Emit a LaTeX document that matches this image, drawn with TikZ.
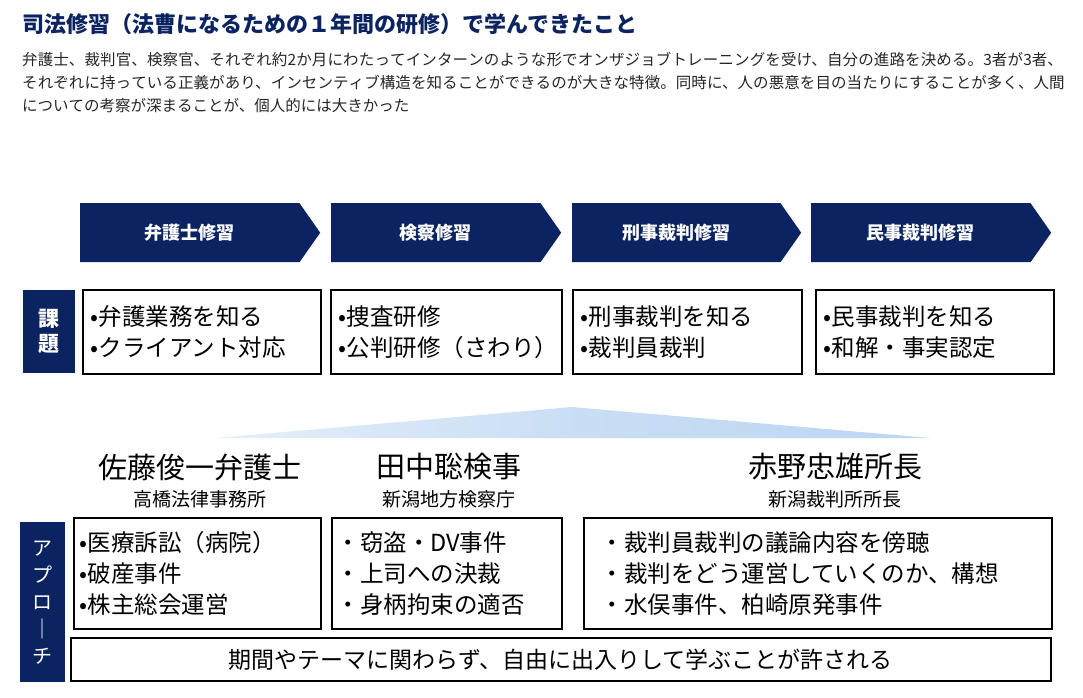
\documentclass[tikz,border=0pt]{standalone}
\usepackage{fontspec}
\setmainfont{Noto Sans CJK JP}
\XeTeXlinebreaklocale "ja"
\XeTeXlinebreakskip=0pt plus 1pt
\usetikzlibrary{shapes.symbols}
\definecolor{navy}{HTML}{0B2461}
\definecolor{skyblue}{HTML}{BCD6F2}
\tikzset{
  phase/.style={signal, signal to=east, signal pointer angle=110, fill=navy, text=white,
    minimum height=59pt, anchor=north west, font=\fontsize{18}{20}\selectfont\bfseries},
  tag/.style={fill=navy, text=white, anchor=north west, inner sep=0pt, align=center},
  task/.style={draw=black, line width=1.6pt, anchor=north west, inner sep=0pt},
  item/.style={anchor=west, align=left, font=\fontsize{23.5}{31}\selectfont},
  mentor/.style={font=\fontsize{29}{30}\selectfont},
  org/.style={font=\fontsize{19}{21}\selectfont}
}
\begin{document}
\begin{tikzpicture}[x=1pt,y=-1pt]
\useasboundingbox (0,0) rectangle (1083,697);

% title and lead
\node (title) [anchor=west, text=navy, font=\fontsize{22}{24}\selectfont\bfseries, inner sep=0pt]
  at (22,24) {司法修習（法曹になるための１年間の研修）で学んできたこと};
\node (lead) [anchor=north west, inner sep=0pt, text width=1045pt, align=left,
  font=\fontsize{15.5}{23}\selectfont, text=black!85] at (22,52)
  {弁護士、裁判官、検察官、それぞれ約2か月にわたってインターンのような形でオンザジョブトレーニングを受け、自分の進路を決める。3者が3者、それぞれに持っている正義があり、インセンティブ構造を知ることができるのが大きな特徴。同時に、人の悪意を目の当たりにすることが多く、人間についての考察が深まることが、個人的には大きかった};

% phases
\node (ph1) [phase, minimum width=240pt] at (80,203) {弁護士修習};
\node (ph2) [phase, minimum width=230pt] at (331,203) {検察修習};
\node (ph3) [phase, minimum width=229pt] at (572,203) {刑事裁判修習};
\node (ph4) [phase, minimum width=240pt] at (811,203) {民事裁判修習};

% tasks
\node (kadai) [tag, minimum width=52pt, minimum height=83pt, font=\fontsize{21}{25}\selectfont\bfseries] at (23,290) {課\\題};
\node (t1) [task, minimum width=238pt, minimum height=84pt] at (82,289) {};
\node (t2) [task, minimum width=231pt, minimum height=84pt] at (330,289) {};
\node (t3) [task, minimum width=229pt, minimum height=84pt] at (572,289) {};
\node (t4) [task, minimum width=238pt, minimum height=84pt] at (815,289) {};
\node [item] at ([xshift=5pt]t1.west) {•弁護業務を知る\\•クライアント対応};
\node [item] at ([xshift=5pt]t2.west) {•捜査研修\\•公判研修（さわり）};
\node [item] at ([xshift=5pt]t3.west) {•刑事裁判を知る\\•裁判員裁判};
\node [item] at ([xshift=5pt]t4.west) {•民事裁判を知る\\•和解・事実認定};

% spread
\shade [left color=skyblue!40, right color=skyblue, middle color=skyblue!80]
  (215,438) -- (572,407) -- (930,438) -- cycle;

% mentors
\node (m1) [mentor] at (200,467) {佐藤俊一弁護士};
\node (o1) [org] at (200,499) {高橋法律事務所};
\node (m2) [mentor] at (449,467) {田中聡検事};
\node (o2) [org] at (449,499) {新潟地方検察庁};
\node (m3) [mentor] at (835,467) {赤野忠雄所長};
\node (o3) [org] at (835,499) {新潟裁判所所長};

% approach
\node (appr) [tag, minimum width=45pt, minimum height=160pt,
  font=\fontsize{20}{27}\selectfont] at (20,522) {ア\\プ\\ロ\\｜\\チ};
\node (a1) [task, minimum width=247pt, minimum height=111pt] at (73,517) {};
\node (a2) [task, minimum width=230pt, minimum height=111pt] at (331,517) {};
\node (a3) [task, minimum width=468pt, minimum height=111pt] at (583,517) {};
\node [item] at ([xshift=3pt]a1.west) {•医療訴訟（病院）\\•破産事件\\•株主総会運営};
\node [item] at ([xshift=2pt]a2.west) {・窃盗・DV事件\\・上司への決裁\\・身柄拘束の適否};
\node [item] at ([xshift=14pt]a3.west) {・裁判員裁判の議論内容を傍聴\\・裁判をどう運営していくのか、構想\\・水俣事件、柏崎原発事件};
\node (free) [task, minimum width=980pt, minimum height=43pt] at (70,637) {};
\node [font=\fontsize{23}{24}\selectfont] at (free.center) {期間やテーマに関わらず、自由に出入りして学ぶことが許される};
\end{tikzpicture}
\end{document}
